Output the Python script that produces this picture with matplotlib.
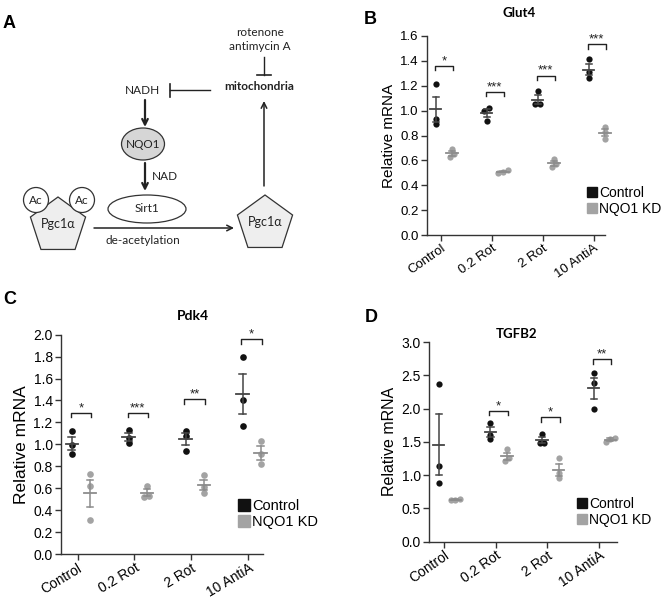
import numpy as np
import matplotlib
matplotlib.use('Agg')
from matplotlib import pyplot as plt
from matplotlib.patches import Ellipse, Circle, RegularPolygon
from matplotlib.lines import Line2D
from matplotlib.transforms import ScaledTranslation

plt.rcParams['font.family'] = ['Liberation Sans', 'DejaVu Sans']

groups = ['Control', '0.2 Rot', '2 Rot', '10 AntiA']

glut4_ctrl = [[1.21, 0.93, 0.89], [1.02, 1.00, 0.92], [1.16, 1.05, 1.05], [1.41, 1.31, 1.26]]
glut4_kd = [[0.69, 0.65, 0.63], [0.52, 0.51, 0.50], [0.61, 0.57, 0.55], [0.87, 0.83, 0.77]]
glut4_sig = ['*', '***', '***', '***']
glut4_bracket = [1.36, 1.15, 1.28, 1.53]

pdk4_ctrl = [[1.12, 0.99, 0.91], [1.13, 1.06, 1.01], [1.12, 1.08, 0.94], [1.80, 1.40, 1.17]]
pdk4_kd = [[0.73, 0.62, 0.31], [0.62, 0.53, 0.52], [0.72, 0.61, 0.56], [1.03, 0.91, 0.82]]
pdk4_sig = ['*', '***', '**', '*']
pdk4_bracket = [1.29, 1.29, 1.41, 1.96]

tgfb2_ctrl = [[2.37, 1.13, 0.88], [1.79, 1.60, 1.54], [1.62, 1.49, 1.49], [2.53, 2.38, 2.00]]
tgfb2_kd = [[0.64, 0.63, 0.62], [1.39, 1.25, 1.21], [1.25, 1.03, 0.95], [1.56, 1.54, 1.50]]
tgfb2_sig = [None, '*', '*', '**']
tgfb2_bracket = [None, 1.97, 1.87, 2.74]

BLACK = '#111111'
GRAY = '#a3a3a3'
DPI = 100


def spread(vals, dy, dx):
    # put overlapping points side by side, like prism does
    order = np.argsort(vals)
    offs = np.zeros(len(vals))
    clusters = []
    for i in order:
        if clusters and vals[i] - vals[clusters[-1][-1]] < dy:
            clusters[-1].append(i)
        else:
            clusters.append([i])
    for c in clusters:
        n = len(c)
        for k, i in enumerate(c):
            offs[i] = (k - (n - 1) / 2) * dx
    return offs


def scatter_panel(rect, ctrl, kd, sig, brk, ylim, ystep, xlim, title, tpos, tsize, lsize, rot, ylsize,
                  msize, legpos, legms, legsize):
    fig = plt.gcf()
    ax = fig.add_axes(rect)
    ax.set_xlim(xlim)
    ax.set_ylim(ylim)
    h_px = rect[3] * 600
    dy = 0.6 * msize / 0.72 * (ylim[1] - ylim[0]) / h_px
    for i in range(len(groups)):
        for vals, off, col, ecol in [(ctrl[i], -0.1, BLACK, '#444444'), (kd[i], 0.22, GRAY, '#8c8c8c')]:
            v = np.array(vals)
            xc = i + off
            xs = xc + spread(v, dy, 0.09)
            ax.plot(xs, v, 'o', color=col, ms=msize, mec='none', zorder=3, clip_on=False)
            m = v.mean()
            sem = v.std(ddof=1) / np.sqrt(len(v))
            ax.plot([xc - 0.11, xc + 0.11], [m, m], color=ecol, lw=1.3, zorder=4, clip_on=False)
            ax.plot([xc, xc], [m - sem, m + sem], color=ecol, lw=1.1, zorder=4)
            ax.plot([xc - 0.06, xc + 0.06], [m + sem, m + sem], color=ecol, lw=1.1, zorder=4, clip_on=False)
            ax.plot([xc - 0.06, xc + 0.06], [m - sem, m - sem], color=ecol, lw=1.1, zorder=4, clip_on=False)
        if sig[i] is not None:
            yb = brk[i]
            d = 0.022 * (ylim[1] - ylim[0])
            x0, x1 = i - 0.12, i + 0.24
            ax.plot([x0, x0, x1, x1], [yb - d, yb, yb, yb - d], color='#222222', lw=1.0, clip_on=False)
            ax.text((x0 + x1) / 2, yb - d * 0.3, sig[i], ha='center', va='bottom', fontsize=9.5, color='#222222')
    ax.set_yticks(np.arange(ylim[0], ylim[1] + 1e-9, ystep))
    ax.yaxis.set_major_formatter(matplotlib.ticker.FormatStrFormatter('%.1f'))
    ax.set_xticks(range(len(groups)))
    ax.set_xticklabels(groups, rotation=rot, ha='right', va='top', rotation_mode='anchor', fontsize=lsize)
    shift = ScaledTranslation(8 / DPI, 2 / DPI, fig.dpi_scale_trans)
    for lab in ax.get_xticklabels():
        lab.set_transform(lab.get_transform() + shift)
    ax.tick_params(axis='y', labelsize=lsize, length=4, width=1, color='#333333', pad=2)
    ax.tick_params(axis='x', length=4, width=1, color='#333333', pad=1)
    for s in ['top', 'right']:
        ax.spines[s].set_visible(False)
    for s in ['left', 'bottom']:
        ax.spines[s].set_color('#333333')
        ax.spines[s].set_linewidth(1.0)
    ax.set_ylabel('Relative mRNA', fontsize=ylsize, labelpad=3)
    fig.text(tpos[0] / 664, 1 - tpos[1] / 600, title, fontsize=tsize, fontweight='bold',
             family=['Lato', 'DejaVu Sans'], ha='center', va='center')
    handles = [Line2D([], [], marker='s', ls='none', color=BLACK, ms=legms),
               Line2D([], [], marker='s', ls='none', color=GRAY, ms=legms)]
    ax.legend(handles, ['Control', 'NQO1 KD'], loc='upper left', bbox_to_anchor=legpos,
              bbox_transform=fig.transFigure, frameon=False, fontsize=legsize,
              handlelength=0.8, handletextpad=0.15, borderpad=0, borderaxespad=0,
              labelspacing=0.15)
    return ax


fig = plt.figure(figsize=(6.64, 6.0), dpi=DPI)

# panel A: pathway sketch in pixel units
axA = fig.add_axes([0, 0.5, 330 / 664, 0.5])
axA.set_xlim(0, 330)
axA.set_ylim(300, 0)
axA.axis('off')
dfont = ['Lato', 'DejaVu Sans']
tc = '#222222'
fs = 8.5
axA.text(260, 32, 'rotenone', ha='center', va='center', fontsize=fs, family=dfont, color=tc)
axA.text(260, 47, 'antimycin A', ha='center', va='center', fontsize=fs, family=dfont, color=tc)
axA.plot([264, 264], [57, 75], color=tc, lw=1.0)
axA.plot([257, 271], [75, 75], color=tc, lw=1.2)
axA.text(259, 87, 'mitochondria', ha='center', va='center', fontsize=fs, fontweight='bold', family=dfont, color=tc)
axA.plot([170, 210], [90, 90], color=tc, lw=1.0)
axA.plot([170, 170], [84, 97], color=tc, lw=1.2)
axA.text(142, 91, 'NADH', ha='center', va='center', fontsize=fs, family=dfont, color=tc)

arrow = dict(arrowstyle='->', color=tc, shrinkA=0, shrinkB=0, mutation_scale=10)
axA.annotate('', xy=(145, 127), xytext=(145, 100), arrowprops=dict(arrow, lw=1.6))
axA.add_patch(Ellipse((143, 144), 43, 32, fc='#d6d6d6', ec='#333333', lw=0.9))
axA.text(143, 144, 'NQO1', ha='center', va='center', fontsize=fs, family=dfont, color=tc)
axA.annotate('', xy=(145, 191), xytext=(145, 163), arrowprops=dict(arrow, lw=1.6))
axA.text(152, 176, 'NAD', ha='left', va='center', fontsize=fs, family=dfont, color=tc)
axA.add_patch(Ellipse((147, 209), 78, 28, fc='white', ec='#333333', lw=0.9))
axA.text(147, 209, 'Sirt1', ha='center', va='center', fontsize=fs, family=dfont, color=tc)

axA.add_patch(RegularPolygon((58, 226), 5, radius=29, orientation=np.pi, fc='#eeeeee', ec='#333333', lw=0.9))
axA.add_patch(Circle((36, 200), 12.5, fc='white', ec='#333333', lw=0.9, zorder=3))
axA.add_patch(Circle((82, 200), 12.5, fc='white', ec='#333333', lw=0.9, zorder=3))
axA.text(36, 200, 'Ac', ha='center', va='center', fontsize=fs, family=dfont, color=tc, zorder=4)
axA.text(82, 200, 'Ac', ha='center', va='center', fontsize=fs, family=dfont, color=tc, zorder=4)
axA.text(58, 224, 'Pgc1\u03b1', ha='center', va='center', fontsize=9, family=dfont, color=tc)
axA.annotate('', xy=(234, 228), xytext=(94, 228), arrowprops=dict(arrow, lw=1.1))
axA.text(143, 240, 'de-acetylation', ha='center', va='center', fontsize=fs, family=dfont, color=tc)
axA.add_patch(RegularPolygon((265, 224), 5, radius=29, orientation=np.pi, fc='#eeeeee', ec='#333333', lw=0.9))
axA.text(265, 222, 'Pgc1\u03b1', ha='center', va='center', fontsize=9, family=dfont, color=tc)
axA.annotate('', xy=(264, 101), xytext=(264, 186), arrowprops=dict(arrow, lw=1.1))

# panels B, C, D
scatter_panel([427 / 664, 1 - 235.3 / 600, 178 / 664, 199.6 / 600], glut4_ctrl, glut4_kd, glut4_sig, glut4_bracket,
              (0.0, 1.6), 0.2, (-0.27, 3.22), 'Glut4', (519, 13), 9.5, 9.5, 35, 11, 4.5,
              (586 / 664, 1 - 186 / 600), 7, 10)
scatter_panel([61 / 664, 1 - 554 / 600, 202 / 664, 219.3 / 600], pdk4_ctrl, pdk4_kd, pdk4_sig, pdk4_bracket,
              (0.0, 2.0), 0.2, (-0.29, 3.26), 'Pdk4', (193, 316), 10, 10, 31, 12.5, 4.8,
              (238 / 664, 1 - 499 / 600), 9, 10.5)
scatter_panel([429 / 664, 1 - 541.5 / 600, 188 / 664, 199.3 / 600], tgfb2_ctrl, tgfb2_kd, tgfb2_sig, tgfb2_bracket,
              (0.0, 3.0), 0.5, (-0.29, 3.35), 'TGFB2', (517, 334), 9.5, 10, 35, 11.5, 4.5,
              (576 / 664, 1 - 497 / 600), 7.5, 10)

for lab, x, y in [('A', 3, 23), ('B', 364, 20), ('C', 3, 300), ('D', 365, 317)]:
    fig.text(x / 664, 1 - y / 600, lab, fontsize=13, fontweight='bold', ha='left', va='center')

fig.savefig('out.png', dpi=DPI)
